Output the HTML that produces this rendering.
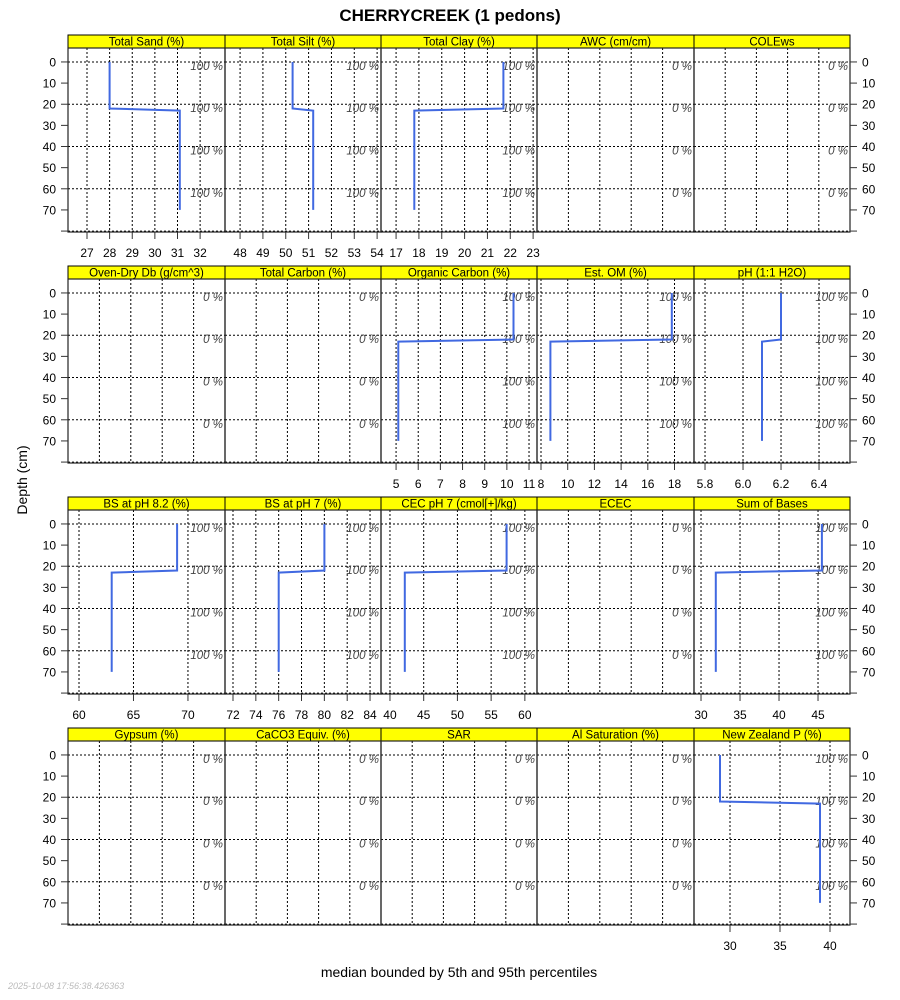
<!DOCTYPE html>
<html><head><meta charset="utf-8"><style>
body{margin:0;background:#fff;}
svg{display:block;font-family:"Liberation Sans",sans-serif;}
</style></head><body>
<svg id="chart" width="900" height="1000" viewBox="0 0 900 1000">
<text x="450" y="21" text-anchor="middle" font-size="17" font-weight="bold">CHERRYCREEK (1 pedons)</text>
<text transform="translate(27,480) rotate(-90)" text-anchor="middle" font-size="14">Depth (cm)</text>
<text x="459" y="977" text-anchor="middle" font-size="14">median bounded by 5th and 95th percentiles</text>
<text x="8" y="989" font-size="9" font-style="italic" fill="#bbb">2025-10-08 17:56:38.426363</text>
<g id="panels"></g>
</svg>
<script>
const names=["Total Sand (%)","Total Silt (%)","Total Clay (%)","AWC (cm/cm)","COLEws","Oven-Dry Db (g/cm^3)","Total Carbon (%)","Organic Carbon (%)","Est. OM (%)","pH (1:1 H2O)","BS at pH 8.2 (%)","BS at pH 7 (%)","CEC pH 7 (cmol[+]/kg)","ECEC","Sum of Bases","Gypsum (%)","CaCO3 Equiv. (%)","SAR","Al Saturation (%)","New Zealand P (%)"];
const topValues=[28,50.3,21.7,null,null,null,null,10.3,17.8,6.2,69,80,57.3,null,45.5,null,null,null,null,29];
const bottomValues=[31.1,51.2,17.8,null,null,null,null,5.1,8.7,6.1,63,76,42.2,null,31.9,null,null,null,null,39];
const horizonTops=[0,23];
const horizonBottoms=[22,70];
const depthTicks=[0,10,20,30,40,50,60,70];
const depthGrid=[0,20,40,60,80];
const xTicks=[[27,28,29,30,31,32],[48,49,50,51,52,53,54],[17,18,19,20,21,22,23],null,null,null,null,[5,6,7,8,9,10,11],[8,10,12,14,16,18],[5.8,6.0,6.2,6.4],[60,65,70],[72,74,76,78,80,82,84],[40,45,50,55,60],null,[30,35,40,45],null,null,null,null,[30,35,40]];
const xTickLabels=[null,null,null,null,null,null,null,null,null,["5.8","6.0","6.2","6.4"]];
const xLims=[[26.16,33.1],[47.34,54.17],[16.34,23.17],[0,1],[0,1],[0,1],[0,1],[4.32,11.36],[7.7,19.46],[5.742,6.563],[58.99,73.4],[71.3,84.96],[38.67,61.8],[0,1],[29.1,49.1],[0,1],[0,1],[0,1],[0,1],[26.4,42.0]];

const NS="http://www.w3.org/2000/svg";
const g=document.getElementById('panels');
const colX=[68,225,381,537,694,850];
const rowTop=[48,279,510,741];
const PH=184, dMin=-6.6, pxPerCm=2.114;
function el(tag,attrs,parent){const e=document.createElementNS(NS,tag);for(const k in attrs)e.setAttribute(k,attrs[k]);(parent||g).appendChild(e);return e;}
names.forEach((nm,i)=>{
  const r=Math.floor(i/5), c=i%5;
  const x0=colX[c], x1=colX[c+1], y0=rowTop[r], y1=y0+PH;
  const yS=d=>y0+(d-dMin)*pxPerCm;
  const lim=xLims[i];
  const xS=v=>x0+(v-lim[0])/(lim[1]-lim[0])*(x1-x0);
  const pg=el('g',{});
  
  
  // strip
  const st=el('rect',{x:x0,y:y0-13,width:x1-x0,height:13,fill:'#ffff00',stroke:'#000','stroke-width':1},pg);
  
  
  const stt=el('text',{x:(x0+x1)/2,y:y0-2.5,'text-anchor':'middle','font-size':11.5},pg);
  stt.textContent=nm;
  
  
  // horizontal grid
  depthGrid.forEach(d=>{
    const l=el('line',{x1:x0,x2:x1,y1:yS(d),y2:yS(d),stroke:'#000','stroke-width':1,'stroke-dasharray':'2,2'},pg);
    
    
  });
  // vertical grid + ticks
  const ticks=xTicks[i];
  const gx=ticks?ticks.map(xS):[1,2,3,4].map(k=>x0+(x1-x0)*k/5);
  gx.forEach((px,k)=>{
    const l=el('line',{x1:px,x2:px,y1:y0,y2:y1,stroke:'#000','stroke-width':1,'stroke-dasharray':'2,2'},pg);
    
    
    if(ticks){
      const t=el('line',{x1:px,x2:px,y1:y1,y2:y1+7,stroke:'#333','stroke-width':1},pg);
      
      
      const tl=el('text',{x:px,y:y1+25,'text-anchor':'middle','font-size':12},pg);
      tl.textContent=(xTickLabels[i]?xTickLabels[i][k]:String(ticks[k]));
      
      
    }
  });
  // border
  const b=el('rect',{x:x0,y:y0,width:x1-x0,height:PH,fill:'none',stroke:'#222','stroke-width':1.2},pg);
  
  
  // depth axis
  if(c===0||c===4){
    depthTicks.concat([80]).forEach(d=>{
      const y=yS(d);
      const t=el('line',{x1:c===0?x0-7:x1,x2:c===0?x0:x1+7,y1:y,y2:y,stroke:'#333','stroke-width':1},pg);
      
      
      if(d<80){
        const tl=el('text',{x:c===0?x0-12:x1+12,y:y+4.5,'text-anchor':c===0?'end':'start','font-size':12},pg);
        tl.textContent=String(d);
        
        
      }
    });
  }
  // percent labels
  const has=topValues[i]!==null;
  [0,20,40,60].forEach(d=>{
    const tl=el('text',{x:x1-2,y:yS(d)+8,'text-anchor':'end','font-size':11.5,'font-style':'italic',fill:'#444'},pg);
    tl.textContent=has?'100 %':'0 %';
    
    
  });
  // series
  if(has){
    const pts=[[topValues[i],horizonTops[0]],[topValues[i],horizonBottoms[0]],[bottomValues[i],horizonTops[1]],[bottomValues[i],horizonBottoms[1]]];
    const p=el('polyline',{points:pts.map(q=>xS(q[0]).toFixed(1)+','+yS(q[1]).toFixed(1)).join(' '),fill:'none',stroke:'#4169e1','stroke-width':2},pg);
    
    
  }
});
</script>
</body></html>
